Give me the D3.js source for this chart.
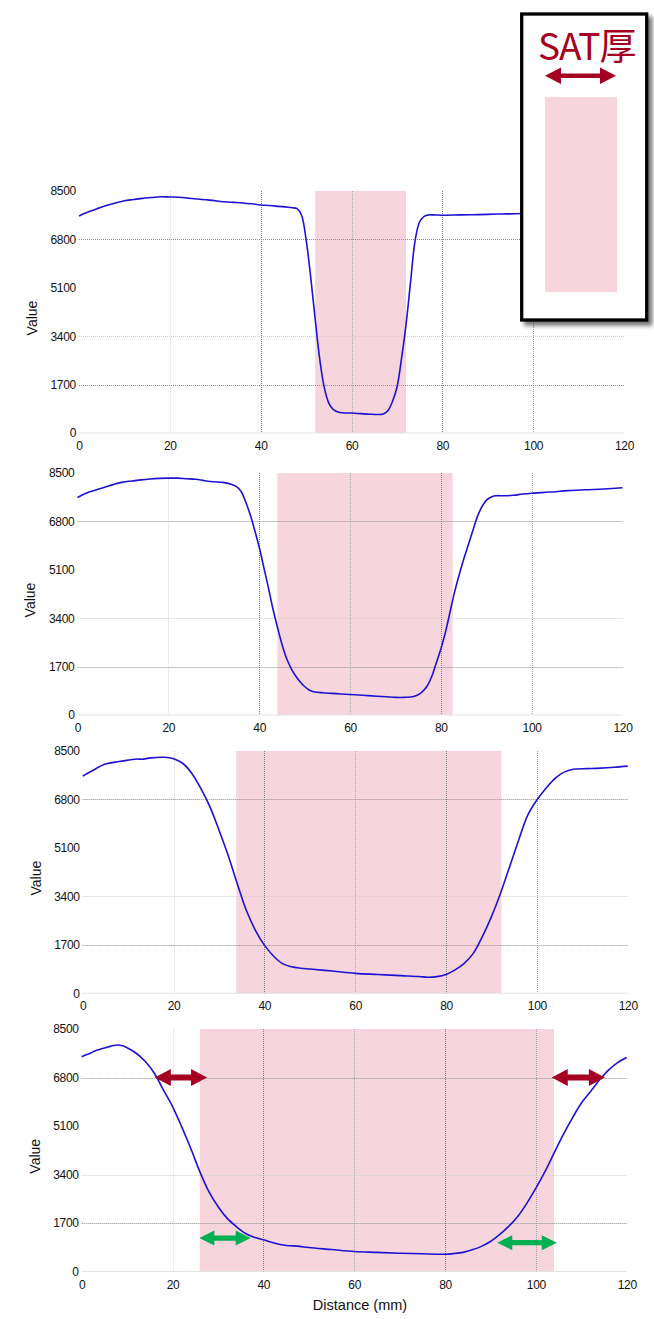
<!DOCTYPE html>
<html><head><meta charset="utf-8">
<script src="https://cdn.jsdelivr.net/npm/d3@7"></script>
<style>body{margin:0;background:#fff}svg{display:block}</style>
</head><body>
<svg id="c" width="654" height="1319"></svg>
<script>
// ---------- data ----------
const xTicks = [0, 20, 40, 60, 80, 100, 120];
const yTicks = [0, 1700, 3400, 5100, 6800, 8500];

const dist1 = [0,1,2,4,6,8,10,12,14,16,18,20,22,24,26,28,30,32,34,36,38,40,42,44,46,47,48,49,50,51,52,53,54,55,56,57,58,60,62,64,66,67,68,69,70,71,72,73,74,75,76,77,78,80,84,88,92,96,100,104,108,112,116,120];
const val1  = [7620,7700,7760,7880,7990,8080,8160,8200,8240,8270,8300,8290,8280,8250,8220,8190,8160,8120,8100,8080,8050,8010,7990,7960,7930,7910,7880,7650,6800,5500,4000,2600,1600,1050,820,740,710,700,680,660,650,670,780,1100,1600,2600,3800,5300,6750,7420,7610,7660,7660,7650,7660,7670,7690,7700,7720,7730,7740,7750,7760,7770];

const dist2 = [0,2,4,6,8,10,12,14,16,18,20,22,24,26,28,30,32,34,35,36,37,38,39,40,41,42,43,44,45,46,47,48,49,50,51,52,54,56,58,60,62,64,66,68,70,72,74,75,76,77,78,79,80,81,82,83,84,85,86,87,88,89,90,91,92,94,96,98,100,104,108,112,116,120];
const val2  = [7640,7800,7900,8000,8100,8180,8220,8260,8290,8310,8320,8320,8300,8280,8230,8190,8170,8100,8020,7860,7500,7050,6500,5900,5200,4500,3750,3100,2500,2000,1650,1380,1170,1000,880,820,780,760,740,720,700,680,660,640,620,620,650,710,830,1020,1350,1830,2320,2900,3600,4300,4900,5450,5950,6450,6950,7300,7540,7650,7700,7700,7720,7760,7790,7830,7880,7910,7940,7980];

const dist3 = [0,2,5,8,10,12,13,15,18,20,22,24,26,28,30,32,34,36,38,40,42,44,46,48,50,55,60,65,70,74,76,78,80,82,84,86,88,90,92,94,96,98,100,102,104,106,108,111,114,117,120];
const val3  = [7620,7800,8040,8130,8180,8220,8210,8260,8280,8230,8070,7720,7190,6550,5730,4850,3860,2920,2220,1690,1310,1040,930,880,850,780,700,660,620,590,565,585,660,820,1050,1400,1990,2690,3510,4440,5380,6250,6780,7190,7540,7760,7860,7880,7900,7930,7970];

const dist4 = [0,1,2,3,4,6,7,8,9,10,12,14,16,18,20,22,24,26,28,30,32,34,36,38,40,44,48,50,55,60,65,70,75,80,82,84,86,88,90,92,94,96,98,100,102,104,106,108,110,112,114,116,118,120];
const val4  = [7530,7600,7660,7740,7790,7880,7920,7940,7910,7840,7650,7360,6950,6360,5780,5080,4320,3500,2800,2280,1870,1580,1340,1200,1110,940,880,840,770,700,670,640,620,607,630,670,760,880,1050,1290,1580,1930,2390,2920,3500,4150,4790,5370,5900,6300,6710,7060,7320,7500];

// SAT thickness band (mm) for each panel
const satStart = [52, 44, 33.8, 26];
const satEnd   = [72, 82.6, 92.2, 104];

// annotation arrows in the last panel: [from mm, to mm, value]
const redArrows   = [[16.1, 27.6, 6800], [103.5, 115.2, 6800]];
const greenArrows = [[25.9, 37.2, 1170], [91.5, 104.6, 1010]];

const legendText = "SAT厚";
const yLabel = "Value";
const xLabel = "Distance (mm)";

// ---------- layout ----------
const series = [[dist1, val1], [dist2, val2], [dist3, val3], [dist4, val4]];
const layout = [
  {x0: 79,   x1: 624,   top: 191, bottom: 433},
  {x0: 77.5, x1: 622.5, top: 473, bottom: 715},
  {x0: 82.7, x1: 627.7, top: 751, bottom: 993.3},
  {x0: 81.7, x1: 626.7, top: 1029, bottom: 1271.5}
];
const vGridStyle = {20: "#d8d8d8", 40: "#7e7e7e", 60: "#aaaaaa", 80: "#7e7e7e", 100: "#a0a0a0"};
const hGridStyle = {1700: "#8e8e8e", 3400: "#cfcfcf", 6800: "#8e8e8e"};
const PINK = "#F7D5DC", LINE = "#1d12d4", RED = "#A50021", GREEN = "#00B050";
const FONT = "'Liberation Sans', Arial, sans-serif";

const svg = d3.select("#c");
const defs = svg.append("defs");
const f = defs.append("filter").attr("id", "sh").attr("x", "-10%").attr("y", "-10%").attr("width", "130%").attr("height", "130%");
f.append("feDropShadow").attr("dx", 4).attr("dy", 4).attr("stdDeviation", 2).attr("flood-color", "#000").attr("flood-opacity", 0.55);

function arrowPath(xa, xb, y, hl, hh, sh) {
  return `M${xa},${y} L${xa+hl},${y-hh} L${xa+hl},${y-sh} L${xb-hl},${y-sh} L${xb-hl},${y-hh} L${xb},${y} L${xb-hl},${y+hh} L${xb-hl},${y+sh} L${xa+hl},${y+sh} L${xa+hl},${y+hh} Z`;
}

layout.forEach((L, i) => {
  const x = d3.scaleLinear().domain([0, 120]).range([L.x0, L.x1]);
  const y = d3.scaleLinear().domain([0, 8500]).range([L.bottom, L.top]);
  const g = svg.append("g");

  // SAT band
  g.append("rect")
    .attr("x", x(satStart[i])).attr("y", y(8500))
    .attr("width", x(satEnd[i]) - x(satStart[i])).attr("height", y(0) - y(8500))
    .attr("fill", PINK);

  // baseline
  g.append("line").attr("x1", x(0)).attr("x2", x(120)).attr("y1", y(0)).attr("y2", y(0))
    .attr("stroke", "#e4e4e4").attr("stroke-width", 1);

  // grid
  xTicks.filter(t => vGridStyle[t]).forEach(t => {
    g.append("line").attr("x1", Math.round(x(t)) + 0.5).attr("x2", Math.round(x(t)) + 0.5)
      .attr("y1", y(8500)).attr("y2", y(0))
      .attr("stroke", vGridStyle[t]).attr("stroke-width", 1).attr("stroke-dasharray", "1,1");
  });
  yTicks.filter(t => hGridStyle[t]).forEach(t => {
    g.append("line").attr("x1", x(0)).attr("x2", x(120))
      .attr("y1", Math.round(y(t)) + 0.5).attr("y2", Math.round(y(t)) + 0.5)
      .attr("stroke", hGridStyle[t]).attr("stroke-width", 1).attr("stroke-dasharray", "1,1");
  });

  // axes
  const ya = g.append("g").attr("transform", `translate(${x(0)},0)`)
    .call(d3.axisLeft(y).tickValues(yTicks).tickSize(0).tickPadding(3).tickFormat(d3.format("d")));
  const xa = g.append("g").attr("transform", `translate(0,${y(0)})`)
    .call(d3.axisBottom(x).tickValues(xTicks).tickSize(0).tickPadding(8.5).tickFormat(d3.format("d")));
  [ya, xa].forEach(a => {
    a.select(".domain").remove();
    a.selectAll("text").attr("font-family", FONT).attr("font-size", 12)
      .attr("letter-spacing", "-0.3px").attr("fill", "#111");
  });

  // y title
  g.append("text")
    .attr("transform", `translate(${x(0) - 47},${(y(0) + y(8500)) / 2 + 6}) rotate(-90)`)
    .attr("text-anchor", "middle").attr("dy", "0.35em")
    .attr("font-family", FONT).attr("font-size", 14).attr("fill", "#111").text(yLabel);

  // data line
  const [dx, dv] = series[i];
  const line = d3.line().x(k => x(dx[k])).y(k => y(dv[k])).curve(d3.curveCatmullRom.alpha(0.5));
  g.append("path").attr("d", line(d3.range(dx.length)))
    .attr("fill", "none").attr("stroke", LINE).attr("stroke-width", 1.6)
    .attr("stroke-linejoin", "round");

  if (i === 3) {
    redArrows.forEach(a => {
      g.append("path").attr("d", arrowPath(x(a[0]), x(a[1]), y(a[2]), 16, 8.5, 3)).attr("fill", RED);
    });
    greenArrows.forEach(a => {
      g.append("path").attr("d", arrowPath(x(a[0]), x(a[1]), y(a[2]), 15, 7.5, 2.6)).attr("fill", GREEN);
    });
    g.append("text").attr("x", 360).attr("y", 1310).attr("text-anchor", "middle")
      .attr("font-family", FONT).attr("font-size", 14.5).attr("fill", "#111").text(xLabel);
  }
});

// legend box
const lg = svg.append("g");
lg.append("rect").attr("x", 521.7).attr("y", 14).attr("width", 125).attr("height", 306)
  .attr("fill", "#fff").attr("stroke", "#000").attr("stroke-width", 3.3).attr("filter", "url(#sh)");
lg.append("text").attr("x", 538).attr("y", 60)
  .attr("font-family", "'Noto Sans CJK JP', 'Noto Sans', sans-serif").attr("font-size", 37)
  .attr("letter-spacing", "-1px").attr("fill", RED).text(legendText);
lg.append("path").attr("d", arrowPath(545, 616, 75.7, 16, 8.3, 2.2)).attr("fill", RED);
lg.append("rect").attr("x", 545).attr("y", 97).attr("width", 72).attr("height", 195).attr("fill", PINK);
</script>
</body></html>
